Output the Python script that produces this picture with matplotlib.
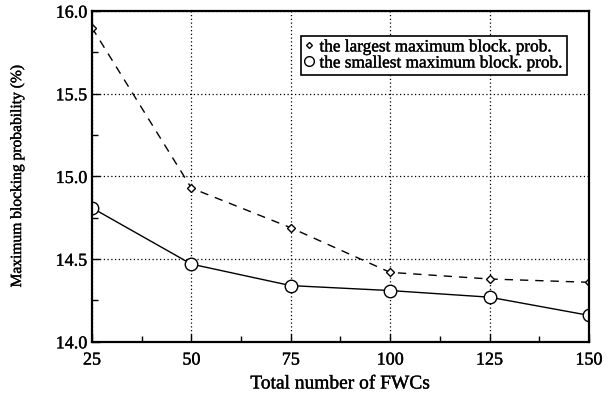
import matplotlib.pyplot as plt
import matplotlib.patheffects as pe
from matplotlib.ticker import MultipleLocator

# FWC counts and blocking probabilities (%)
fwcs = [25, 50, 75, 100, 125, 150]
largest = [15.90, 14.93, 14.69, 14.42, 14.38, 14.36]
smallest = [14.81, 14.47, 14.34, 14.31, 14.27, 14.16]

plt.rcParams['font.family'] = ['Liberation Serif', 'DejaVu Serif']
# slightly heavier strokes on text
heavy = [pe.withStroke(linewidth=0.25, foreground="black")]

fig = plt.figure(figsize=(6.09, 3.97), dpi=100)
ax = fig.add_axes([0.151, 0.139, 0.816, 0.833])

ax.plot(fwcs, largest, color="black", linestyle=(0, (6, 5)), linewidth=1.0,
        marker="D", markersize=4.5, markerfacecolor="white", markeredgewidth=1.0,
        label="the largest maximum block. prob.")
ax.plot(fwcs, smallest, color="black", linestyle="-", linewidth=1.0,
        marker="o", markersize=9, markerfacecolor="white", markeredgewidth=1.0,
        label="the smallest maximum block. prob.")

ax.set_xlim(25, 150)
ax.set_ylim(14.0, 16.0)
ax.xaxis.set_major_locator(MultipleLocator(25))
ax.xaxis.set_minor_locator(MultipleLocator(12.5))
ax.yaxis.set_major_locator(MultipleLocator(0.5))
ax.yaxis.set_minor_locator(MultipleLocator(0.25))
ax.yaxis.set_major_formatter(plt.FormatStrFormatter("%.1f"))

ax.grid(True, which="major", color="black", linestyle=(0, (1, 2)), linewidth=0.9)
ax.tick_params(which="both", direction="in", labelsize=13, color="black")
ax.tick_params(which="major", length=6, width=1)
ax.tick_params(which="minor", length=4, width=1)
ax.tick_params(axis="x", pad=7)
for s in ax.spines.values():
    s.set_linewidth(1.6)

ax.set_xlabel("Total number of FWCs", fontsize=14, labelpad=5)
ax.set_ylabel("Maximum blocking probability (%)", fontsize=11.2, labelpad=22)

leg = ax.legend(loc="upper right", bbox_to_anchor=(0.955, 0.925), fontsize=12.4,
                handlelength=0.6, handletextpad=0.3, borderpad=0.2,
                labelspacing=0.0, borderaxespad=0, fancybox=False,
                framealpha=1, edgecolor="black")
leg.get_frame().set_linewidth(1.2)
for h in leg.legend_handles:
    h.set_linestyle("None")
leg.legend_handles[0].set_markersize(3)
leg.legend_handles[1].set_markersize(7)

texts = ax.get_xticklabels() + ax.get_yticklabels() + leg.get_texts()
texts += [ax.xaxis.label, ax.yaxis.label]
for t in texts:
    t.set_path_effects(heavy)

fig.savefig("out.png", dpi=100)
